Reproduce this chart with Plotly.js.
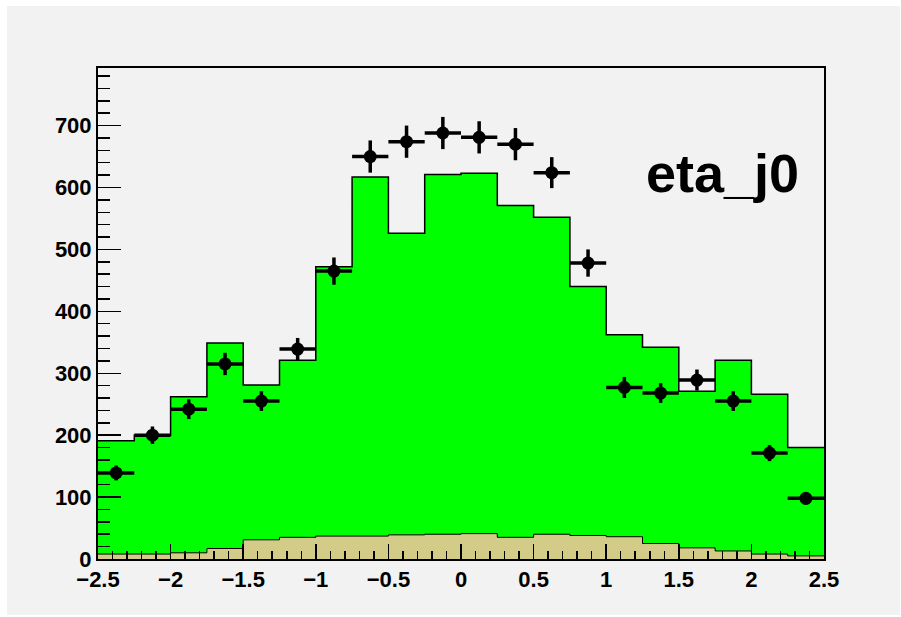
<!DOCTYPE html>
<html>
<head>
<meta charset="utf-8">
<script src="https://cdn.plot.ly/plotly-3.0.1.min.js"></script>
<style>
  html, body { margin: 0; padding: 0; background: #ffffff; }
  #chart { position: absolute; left: 7px; top: 6px; width: 893px; height: 609px; }
</style>
</head>
<body>
<div id="chart"></div>
<script>
// Bin lower edges of the eta_j0 histogram (20 bins of width 0.25)
const binLow = [-2.5, -2.25, -2.0, -1.75, -1.5, -1.25, -1.0, -0.75, -0.5, -0.25,
                0.0, 0.25, 0.5, 0.75, 1.0, 1.25, 1.5, 1.75, 2.0, 2.25];
const binHigh = 2.5;
const binWidth = 0.25;

// Stacked MC total (green) and the bottom background component (tan)
const stackTotal = [191, 200, 262, 349, 281, 321, 472, 617, 526, 621,
                    623, 571, 552, 440, 362, 342, 271, 321, 266, 180];
const bkgBottom = [8, 8, 10, 17, 31, 35, 37, 37, 39, 40,
                   41, 35, 40, 38, 36, 25, 18, 13, 8, 5];

// Data counts and their statistical errors
const dataCounts = [139, 200, 242, 315, 255, 339, 465, 650, 674, 688,
                    681, 670, 624, 478, 277, 268, 289, 255, 171, 98];
const dataErrors = [12, 14, 16, 18, 16, 18, 22, 26, 26, 26,
                    26, 26, 25, 22, 17, 16, 17, 16, 13, 10];

const histTitle = 'eta_j0';

// Step-outline helpers: edges plus repeated last value for 'hv' lines
const stepX = binLow.concat([binHigh]);
const stepY = vals => vals.concat([vals[vals.length - 1]]);
const centers = binLow.map(v => v + binWidth / 2);

const traces = [
  {
    x: stepX, y: stepY(stackTotal), type: 'scatter', mode: 'lines',
    line: { shape: 'hv', color: '#000000', width: 1.5 },
    fill: 'tozeroy', fillcolor: '#00ff00', hoverinfo: 'skip'
  },
  {
    x: stepX, y: stepY(bkgBottom), type: 'scatter', mode: 'lines',
    line: { shape: 'hv', color: '#000000', width: 1 },
    fill: 'tozeroy', fillcolor: '#d3cc89', hoverinfo: 'skip'
  },
  {
    x: centers, y: dataCounts, type: 'scatter', mode: 'markers',
    marker: { color: '#000000', size: 13, symbol: 'circle' },
    error_y: { type: 'data', array: dataErrors, visible: true, color: '#000000', thickness: 3.5, width: 0 },
    error_x: { type: 'constant', value: binWidth / 2, visible: true, color: '#000000', thickness: 3.5, width: 0 }
  }
];

const tickFont = { family: 'Liberation Sans, Arial, sans-serif', size: 22, color: '#000000', weight: 'bold' };

const layout = {
  width: 893, height: 609,
  margin: { l: 91, r: 76, t: 62, b: 56 },
  paper_bgcolor: '#f2f2f2',
  plot_bgcolor: '#f2f2f2',
  showlegend: false,
  xaxis: {
    range: [-2.5, 2.5], tickmode: 'linear', tick0: -2.5, dtick: 0.5,
    ticks: 'inside', ticklen: 15, tickwidth: 1.5, tickcolor: '#000000',
    minor: { dtick: 0.1, tick0: -2.5, ticks: 'inside', ticklen: 8, tickwidth: 1.5, tickcolor: '#000000' },
    showgrid: false, zeroline: false,
    showline: true, linecolor: '#000000', linewidth: 2, mirror: true,
    tickfont: tickFont, ticklabelstandoff: 0
  },
  yaxis: {
    range: [0, 793], tickmode: 'linear', tick0: 0, dtick: 100,
    ticks: 'inside', ticklen: 23, tickwidth: 1.5, tickcolor: '#000000',
    minor: { dtick: 20, ticks: 'inside', ticklen: 12, tickwidth: 1.5, tickcolor: '#000000' },
    showgrid: false, zeroline: false,
    showline: true, linecolor: '#000000', linewidth: 2, mirror: true,
    tickfont: tickFont, ticklabelstandoff: 0
  },
  annotations: [{
    text: histTitle, xref: 'x', yref: 'y', x: 1.8, y: 624,
    xanchor: 'center', yanchor: 'middle', showarrow: false,
    font: { family: 'Liberation Sans, Arial, sans-serif', size: 54, color: '#000000', weight: 'bold' }
  }]
};

Plotly.newPlot('chart', traces, layout, { displayModeBar: false, staticPlot: true });
</script>
</body>
</html>
